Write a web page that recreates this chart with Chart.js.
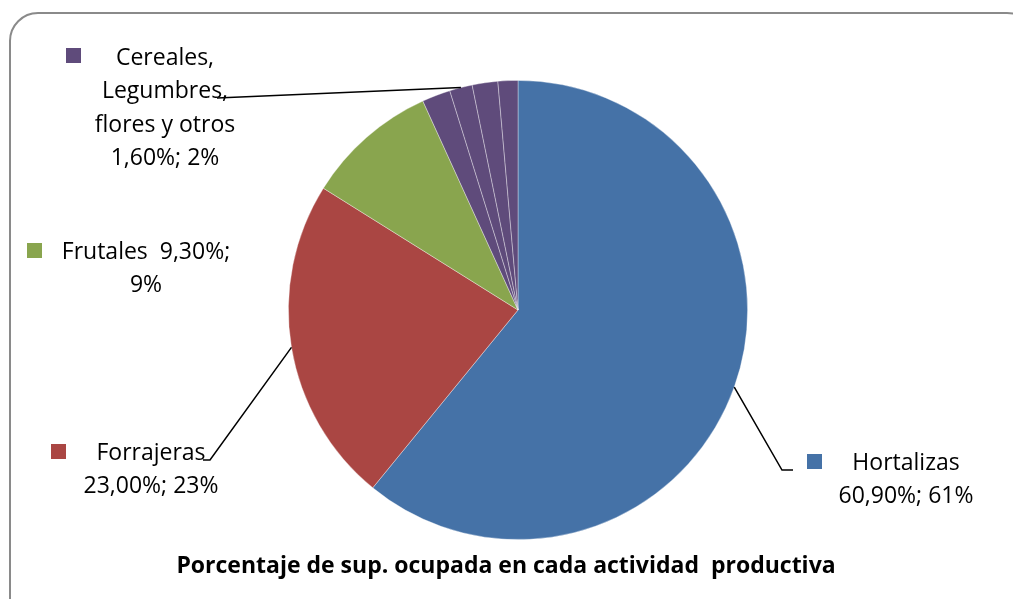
<!DOCTYPE html>
<html><head><meta charset="utf-8">
<script src="https://cdn.jsdelivr.net/npm/chart.js@4.4.1/dist/chart.umd.min.js"></script>
<style>html,body{margin:0;padding:0;background:#fff;overflow:hidden}#wrap{width:1013px;height:599px;position:relative}</style>
</head><body><div id="wrap"><canvas id="c" width="1013" height="599"></canvas></div>
<script>
// ---- data ----
const categories = ["Hortalizas", "Forrajeras", "Frutales", "", "Cereales, Legumbres, flores y otros", "", ""];
const values = [60.9, 23.0, 9.3, 2.0, 1.6, 1.8, 1.4];
const colors = ["#4572A7", "#AA4643", "#89A54E", "#5F4B7B", "#5F4B7B", "#5F4B7B", "#5F4B7B"];
const labelLines = [
  ["Hortalizas", "60,90%; 61%"],
  ["Forrajeras", "23,00%; 23%"],
  ["Frutales  9,30%;", "9%"],
  [],
  ["Cereales,", "Legumbres,", "flores y otros", "1,60%; 2%"],
  [],
  []
];
const titleText = "Porcentaje de sup. ocupada en cada actividad  productiva";

// ---- label layout (positions only) ----
const labelLayout = {
  0: {sq: [807, 454], cx: 906, y: 463, leader: [[782, 470], [793, 470]]},
  1: {sq: [51, 444], cx: 151, y: 453, leader: [[210, 460], [203, 460]]},
  2: {sq: [27, 243], cx: 146, y: 252, leader: null},
  4: {sq: [66, 48], cx: 165, y: 58, leader: [[217, 98]]}
};
const FONT = '"Open Sans", "Liberation Sans", sans-serif';

const decor = {
  id: 'decor',
  beforeDraw(chart) {
    const ctx = chart.ctx;
    ctx.save();
    ctx.fillStyle = '#fff';
    ctx.fillRect(0, 0, chart.width, chart.height);
    ctx.restore();
  },
  afterDraw(chart) {
    const ctx = chart.ctx;
    const meta = chart.getDatasetMeta(0);
    ctx.save();
    // frame
    ctx.strokeStyle = '#8a8a8a';
    ctx.lineWidth = 2;
    ctx.beginPath();
    ctx.roundRect(10, 13, 1025, 640, 28);
    ctx.stroke();
    // labels
    ctx.font = '23px ' + FONT;
    ctx.textAlign = 'center';
    ctx.textBaseline = 'middle';
    Object.keys(labelLayout).forEach(k => {
      const i = +k, L = labelLayout[k];
      const arc = meta.data[i];
      if (L.leader) {
        const mid = (arc.startAngle + arc.endAngle) / 2;
        const px = arc.x + Math.cos(mid) * arc.outerRadius;
        const py = arc.y + Math.sin(mid) * arc.outerRadius;
        ctx.strokeStyle = '#000';
        ctx.lineWidth = 1.5;
        ctx.beginPath();
        ctx.moveTo(px, py);
        L.leader.forEach(p => ctx.lineTo(p[0], p[1]));
        ctx.stroke();
      }
      ctx.fillStyle = colors[i];
      ctx.fillRect(L.sq[0], L.sq[1], 15, 15);
      ctx.fillStyle = '#000';
      labelLines[i].forEach((t, j) => ctx.fillText(t, L.cx, L.y + j * 33.5));
    });
    // title
    ctx.font = 'bold 23px ' + FONT;
    ctx.fillText(titleText, 506, 566);
    ctx.restore();
  }
};

new Chart(document.getElementById('c'), {
  type: 'pie',
  data: {
    labels: categories,
    datasets: [{
      data: values,
      backgroundColor: colors,
      borderColor: 'rgba(255,255,255,0.45)',
      borderWidth: 0.8
    }]
  },
  options: {
    responsive: false,
    animation: false,
    layout: {padding: {top: 80, bottom: 59, left: 100, right: 77}},
    plugins: {legend: {display: false}, tooltip: {enabled: false}, title: {display: false}}
  },
  plugins: [decor]
});
</script>
</body></html>
